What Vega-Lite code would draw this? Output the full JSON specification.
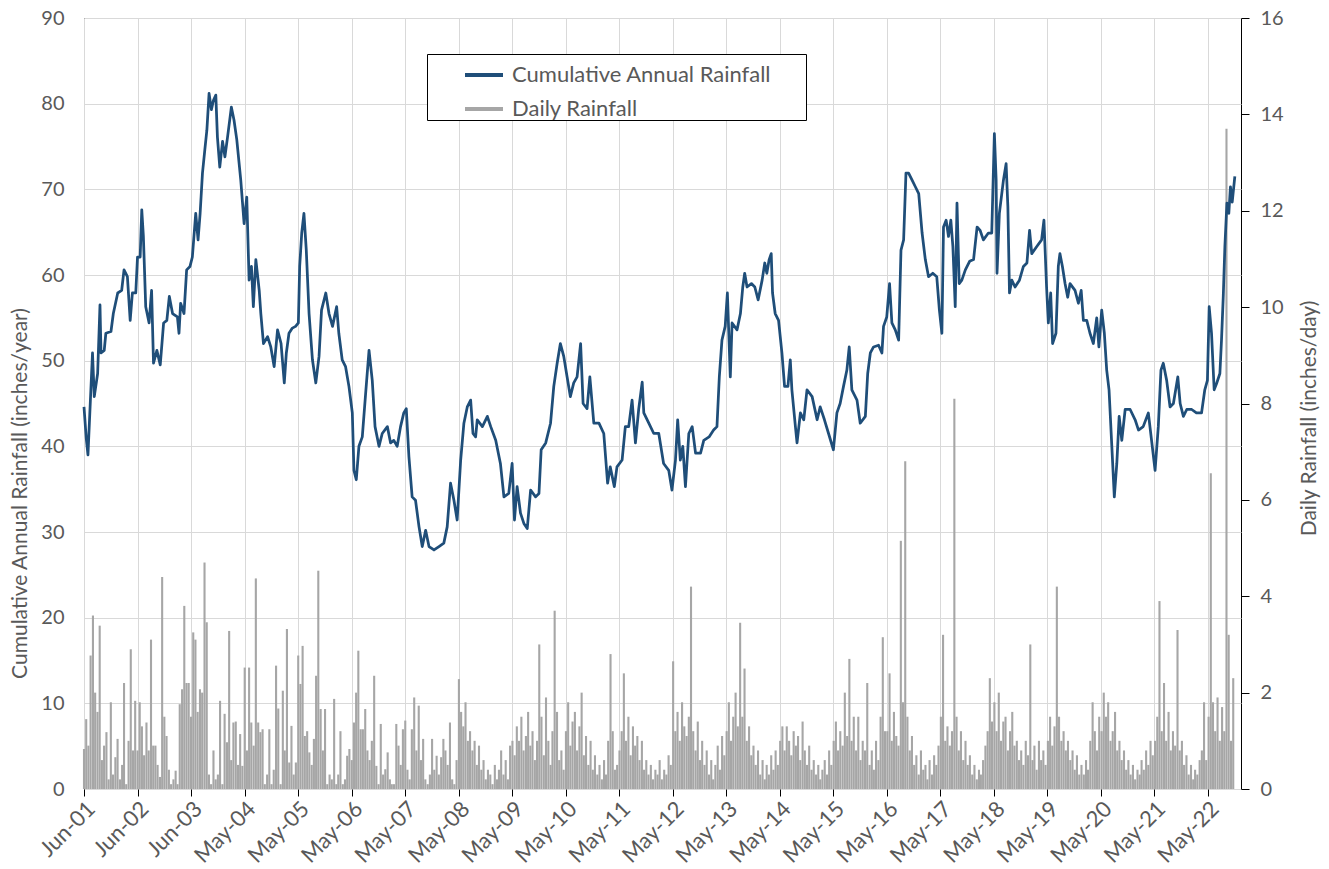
{
"$schema": "https://vega.github.io/schema/vega-lite/v6.json",
"width": 1157, "height": 771,
"autosize": {"type": "none"},
"padding": {"left": 84, "top": 18, "right": 88, "bottom": 80},
"background": "white",
"config": {
  "view": {"stroke": "#000000", "strokeWidth": 1},
  "font": "Lato",
  "axis": {"labelFont": "Lato", "titleFont": "Lato", "labelColor": "#595959", "titleColor": "#595959", "labelFontSize": 20, "titleFontSize": 21, "titleFontWeight": "normal"}
},
"datasets": {
"cumulative": [
{"date":"2001-06-01","cum":44.6},{"date":"2001-06-16","cum":41.0},{"date":"2001-06-28","cum":39.0},{"date":"2001-07-29","cum":50.9},{"date":"2001-08-10","cum":45.8},{"date":"2001-09-02","cum":48.5},{"date":"2001-09-18","cum":56.5},{"date":"2001-09-25","cum":50.9},{"date":"2001-10-17","cum":51.2},{"date":"2001-10-28","cum":53.2},{"date":"2001-12-02","cum":53.4},{"date":"2001-12-18","cum":55.5},
{"date":"2002-01-17","cum":57.9},{"date":"2002-02-13","cum":58.2},{"date":"2002-03-01","cum":60.6},{"date":"2002-03-24","cum":59.8},{"date":"2002-04-12","cum":54.7},{"date":"2002-04-27","cum":57.9},{"date":"2002-05-20","cum":57.9},{"date":"2002-06-01","cum":62.1},{"date":"2002-06-19","cum":62.1},{"date":"2002-06-30","cum":67.6},{"date":"2002-07-11","cum":64.5},{"date":"2002-07-27","cum":56.3},{"date":"2002-08-19","cum":54.4},{"date":"2002-09-05","cum":58.2},{"date":"2002-09-18","cum":49.7},{"date":"2002-10-11","cum":51.2},{"date":"2002-11-03","cum":49.5},{"date":"2002-11-26","cum":54.4},{"date":"2002-12-18","cum":54.7},
{"date":"2003-01-04","cum":57.5},{"date":"2003-01-26","cum":55.5},{"date":"2003-02-28","cum":55.1},{"date":"2003-03-11","cum":53.2},{"date":"2003-03-22","cum":56.7},{"date":"2003-04-14","cum":55.5},{"date":"2003-05-02","cum":60.6},{"date":"2003-05-25","cum":61.0},{"date":"2003-06-10","cum":62.1},{"date":"2003-07-03","cum":67.2},{"date":"2003-07-19","cum":64.1},{"date":"2003-08-02","cum":67.2},{"date":"2003-08-18","cum":71.9},{"date":"2003-09-03","cum":74.6},{"date":"2003-09-17","cum":76.9},{"date":"2003-10-02","cum":81.2},{"date":"2003-10-18","cum":79.3},{"date":"2003-11-01","cum":80.4},{"date":"2003-11-17","cum":81.0},{"date":"2003-11-28","cum":76.1},{"date":"2003-12-14","cum":72.6},
{"date":"2004-01-02","cum":75.6},{"date":"2004-01-18","cum":73.8},{"date":"2004-02-05","cum":76.1},{"date":"2004-03-02","cum":79.6},{"date":"2004-03-20","cum":78.1},{"date":"2004-04-08","cum":75.8},{"date":"2004-05-05","cum":71.1},{"date":"2004-05-28","cum":66.0},{"date":"2004-06-15","cum":69.1},{"date":"2004-07-01","cum":59.4},{"date":"2004-07-17","cum":61.0},{"date":"2004-07-30","cum":56.3},{"date":"2004-08-16","cum":61.8},{"date":"2004-09-08","cum":58.2},{"date":"2004-09-19","cum":55.5},{"date":"2004-10-07","cum":52.0},{"date":"2004-11-04","cum":52.8},{"date":"2004-11-26","cum":51.6},{"date":"2004-12-19","cum":49.3},
{"date":"2005-01-11","cum":53.6},{"date":"2005-02-04","cum":52.0},{"date":"2005-02-26","cum":47.4},{"date":"2005-03-12","cum":50.9},{"date":"2005-03-30","cum":53.2},{"date":"2005-04-22","cum":53.8},{"date":"2005-05-14","cum":54.0},{"date":"2005-06-02","cum":54.4},{"date":"2005-06-11","cum":61.0},{"date":"2005-06-25","cum":64.9},{"date":"2005-07-10","cum":67.2},{"date":"2005-07-26","cum":62.9},{"date":"2005-08-14","cum":55.5},{"date":"2005-09-06","cum":50.1},{"date":"2005-09-29","cum":47.4},{"date":"2005-10-21","cum":50.5},{"date":"2005-11-07","cum":55.9},{"date":"2005-12-06","cum":57.9},{"date":"2005-12-28","cum":55.5},
{"date":"2006-01-21","cum":54.0},{"date":"2006-02-18","cum":56.3},{"date":"2006-03-05","cum":53.2},{"date":"2006-03-28","cum":50.1},{"date":"2006-04-20","cum":49.3},{"date":"2006-05-13","cum":47.0},{"date":"2006-06-05","cum":43.9},{"date":"2006-06-16","cum":37.2},{"date":"2006-07-02","cum":36.1},{"date":"2006-07-20","cum":40.0},{"date":"2006-08-12","cum":41.1},{"date":"2006-09-04","cum":46.2},{"date":"2006-09-27","cum":51.2},{"date":"2006-10-19","cum":47.7},{"date":"2006-11-07","cum":42.3},{"date":"2006-12-04","cum":40.0},{"date":"2006-12-26","cum":41.5},
{"date":"2007-01-30","cum":42.3},{"date":"2007-02-21","cum":40.4},{"date":"2007-03-15","cum":40.7},{"date":"2007-04-07","cum":40.0},{"date":"2007-04-30","cum":42.3},{"date":"2007-05-22","cum":43.9},{"date":"2007-06-08","cum":44.4},{"date":"2007-06-26","cum":38.8},{"date":"2007-07-18","cum":34.1},{"date":"2007-08-10","cum":33.7},{"date":"2007-09-03","cum":30.6},{"date":"2007-09-25","cum":28.3},{"date":"2007-10-18","cum":30.2},{"date":"2007-11-10","cum":28.3},{"date":"2007-12-14","cum":27.9},
{"date":"2008-01-17","cum":28.3},{"date":"2008-02-19","cum":28.7},{"date":"2008-03-13","cum":30.6},{"date":"2008-04-05","cum":35.7},{"date":"2008-04-28","cum":33.7},{"date":"2008-05-20","cum":31.4},{"date":"2008-06-13","cum":38.4},{"date":"2008-07-05","cum":42.7},{"date":"2008-07-28","cum":44.6},{"date":"2008-08-20","cum":45.4},{"date":"2008-09-05","cum":41.5},{"date":"2008-09-23","cum":41.1},{"date":"2008-10-04","cum":43.1},{"date":"2008-11-08","cum":42.3},{"date":"2008-12-12","cum":43.5},
{"date":"2009-01-04","cum":42.3},{"date":"2009-02-07","cum":40.7},{"date":"2009-03-11","cum":38.0},{"date":"2009-04-04","cum":34.1},{"date":"2009-05-07","cum":34.5},{"date":"2009-05-30","cum":38.0},{"date":"2009-06-15","cum":31.4},{"date":"2009-07-03","cum":35.3},{"date":"2009-07-26","cum":32.2},{"date":"2009-08-18","cum":31.0},{"date":"2009-09-10","cum":30.4},{"date":"2009-10-03","cum":34.9},{"date":"2009-11-06","cum":34.1},{"date":"2009-11-29","cum":34.5},{"date":"2009-12-14","cum":39.6},
{"date":"2010-01-14","cum":40.4},{"date":"2010-02-16","cum":42.7},{"date":"2010-03-10","cum":47.0},{"date":"2010-04-02","cum":49.7},{"date":"2010-04-24","cum":52.0},{"date":"2010-05-17","cum":50.5},{"date":"2010-06-09","cum":48.1},{"date":"2010-07-01","cum":45.8},{"date":"2010-07-24","cum":47.4},{"date":"2010-08-16","cum":48.1},{"date":"2010-09-09","cum":52.0},{"date":"2010-09-26","cum":45.0},{"date":"2010-10-23","cum":44.4},{"date":"2010-11-11","cum":48.1},{"date":"2010-12-08","cum":42.7},
{"date":"2011-01-12","cum":42.7},{"date":"2011-02-14","cum":41.5},{"date":"2011-03-12","cum":35.7},{"date":"2011-03-30","cum":37.6},{"date":"2011-04-27","cum":35.3},{"date":"2011-05-15","cum":37.6},{"date":"2011-06-19","cum":38.4},{"date":"2011-07-11","cum":42.3},{"date":"2011-08-03","cum":42.3},{"date":"2011-08-26","cum":45.4},{"date":"2011-09-18","cum":40.4},{"date":"2011-10-10","cum":44.3},{"date":"2011-11-03","cum":47.5},{"date":"2011-11-14","cum":43.9},{"date":"2011-12-18","cum":42.7},
{"date":"2012-01-21","cum":41.5},{"date":"2012-02-24","cum":41.5},{"date":"2012-03-28","cum":38.0},{"date":"2012-05-02","cum":37.2},{"date":"2012-05-24","cum":34.9},{"date":"2012-06-17","cum":38.4},{"date":"2012-07-02","cum":43.1},{"date":"2012-07-20","cum":38.4},{"date":"2012-08-06","cum":40.0},{"date":"2012-08-24","cum":35.3},{"date":"2012-09-16","cum":41.5},{"date":"2012-10-09","cum":42.3},{"date":"2012-11-01","cum":39.2},{"date":"2012-12-05","cum":39.2},{"date":"2012-12-27","cum":40.7},
{"date":"2013-02-01","cum":41.1},{"date":"2013-03-04","cum":41.9},{"date":"2013-03-27","cum":42.3},{"date":"2013-04-12","cum":48.1},{"date":"2013-04-30","cum":52.4},{"date":"2013-05-22","cum":54.0},{"date":"2013-06-06","cum":57.9},{"date":"2013-06-26","cum":48.1},{"date":"2013-07-08","cum":54.4},{"date":"2013-08-11","cum":53.6},{"date":"2013-09-03","cum":55.5},{"date":"2013-09-19","cum":58.6},{"date":"2013-10-02","cum":60.2},{"date":"2013-10-18","cum":58.6},{"date":"2013-11-17","cum":59.0},{"date":"2013-12-10","cum":58.6},
{"date":"2014-01-02","cum":57.1},{"date":"2014-01-29","cum":59.4},{"date":"2014-02-16","cum":61.4},{"date":"2014-03-02","cum":60.2},{"date":"2014-03-18","cum":61.8},{"date":"2014-04-01","cum":62.5},{"date":"2014-04-10","cum":57.9},{"date":"2014-04-28","cum":55.5},{"date":"2014-05-21","cum":54.7},{"date":"2014-06-13","cum":50.9},{"date":"2014-07-01","cum":47.0},{"date":"2014-07-24","cum":47.0},{"date":"2014-08-09","cum":50.1},{"date":"2014-08-20","cum":46.6},{"date":"2014-09-13","cum":42.3},{"date":"2014-09-24","cum":40.4},{"date":"2014-10-17","cum":43.9},{"date":"2014-11-09","cum":43.1},{"date":"2014-12-01","cum":46.6},
{"date":"2015-01-05","cum":45.8},{"date":"2015-02-08","cum":43.1},{"date":"2015-03-01","cum":44.6},{"date":"2015-03-30","cum":43.1},{"date":"2015-04-27","cum":41.5},{"date":"2015-05-30","cum":39.6},{"date":"2015-06-23","cum":43.9},{"date":"2015-07-15","cum":45.0},{"date":"2015-08-07","cum":47.0},{"date":"2015-08-30","cum":48.9},{"date":"2015-09-15","cum":51.6},{"date":"2015-10-03","cum":46.6},{"date":"2015-11-07","cum":45.4},{"date":"2015-11-29","cum":42.7},
{"date":"2016-01-03","cum":43.5},{"date":"2016-01-19","cum":48.5},{"date":"2016-02-06","cum":50.9},{"date":"2016-02-28","cum":51.6},{"date":"2016-04-02","cum":51.8},{"date":"2016-04-25","cum":50.9},{"date":"2016-05-06","cum":54.0},{"date":"2016-05-28","cum":55.1},{"date":"2016-06-16","cum":59.0},{"date":"2016-07-02","cum":54.4},{"date":"2016-07-25","cum":53.6},{"date":"2016-08-17","cum":52.4},{"date":"2016-09-02","cum":62.9},{"date":"2016-09-20","cum":64.1},{"date":"2016-10-06","cum":71.9},{"date":"2016-10-24","cum":71.9},{"date":"2016-11-16","cum":71.1},{"date":"2016-12-09","cum":70.3},
{"date":"2017-01-01","cum":69.5},{"date":"2017-01-24","cum":64.9},{"date":"2017-02-15","cum":61.8},{"date":"2017-03-09","cum":59.8},{"date":"2017-04-07","cum":60.2},{"date":"2017-05-04","cum":59.8},{"date":"2017-05-22","cum":55.9},{"date":"2017-06-08","cum":53.2},{"date":"2017-06-19","cum":65.6},{"date":"2017-07-07","cum":66.4},{"date":"2017-07-23","cum":64.5},{"date":"2017-08-08","cum":66.4},{"date":"2017-08-22","cum":63.3},{"date":"2017-09-07","cum":56.3},{"date":"2017-09-19","cum":68.4},{"date":"2017-10-04","cum":59.0},{"date":"2017-10-22","cum":59.4},{"date":"2017-11-15","cum":60.6},{"date":"2017-12-14","cum":61.6},
{"date":"2018-01-10","cum":61.8},{"date":"2018-02-03","cum":65.6},{"date":"2018-02-24","cum":65.2},{"date":"2018-03-18","cum":64.1},{"date":"2018-04-21","cum":64.9},{"date":"2018-05-14","cum":64.9},{"date":"2018-06-01","cum":76.5},{"date":"2018-06-13","cum":71.1},{"date":"2018-06-19","cum":60.2},{"date":"2018-07-05","cum":67.2},{"date":"2018-08-02","cum":71.1},{"date":"2018-08-20","cum":73.0},{"date":"2018-09-01","cum":68.0},{"date":"2018-09-12","cum":57.9},{"date":"2018-09-28","cum":59.4},{"date":"2018-10-20","cum":58.6},{"date":"2018-11-19","cum":59.4},{"date":"2018-12-16","cum":61.0},
{"date":"2019-01-09","cum":61.4},{"date":"2019-01-27","cum":65.2},{"date":"2019-02-11","cum":62.5},{"date":"2019-03-16","cum":63.3},{"date":"2019-04-19","cum":64.1},{"date":"2019-05-05","cum":66.4},{"date":"2019-05-23","cum":58.6},{"date":"2019-06-04","cum":54.4},{"date":"2019-06-20","cum":57.9},{"date":"2019-07-03","cum":52.0},{"date":"2019-07-26","cum":53.2},{"date":"2019-08-11","cum":61.0},{"date":"2019-08-22","cum":62.5},{"date":"2019-09-08","cum":61.0},{"date":"2019-09-26","cum":59.0},{"date":"2019-10-14","cum":57.4},{"date":"2019-10-30","cum":59.0},{"date":"2019-12-03","cum":58.2},{"date":"2019-12-26","cum":56.7},
{"date":"2020-01-14","cum":58.2},{"date":"2020-01-29","cum":54.7},{"date":"2020-02-21","cum":54.7},{"date":"2020-03-14","cum":53.2},{"date":"2020-04-06","cum":52.0},{"date":"2020-04-29","cum":55.0},{"date":"2020-05-14","cum":51.6},{"date":"2020-06-02","cum":55.9},{"date":"2020-06-20","cum":53.2},{"date":"2020-07-06","cum":48.9},{"date":"2020-07-22","cum":46.6},{"date":"2020-08-10","cum":40.0},{"date":"2020-08-27","cum":34.1},{"date":"2020-09-13","cum":38.0},{"date":"2020-09-29","cum":43.5},{"date":"2020-10-17","cum":40.7},{"date":"2020-11-09","cum":44.3},{"date":"2020-12-13","cum":44.3},
{"date":"2021-01-16","cum":43.1},{"date":"2021-02-08","cum":41.9},{"date":"2021-03-12","cum":42.3},{"date":"2021-04-16","cum":43.9},{"date":"2021-05-08","cum":40.7},{"date":"2021-06-01","cum":37.2},{"date":"2021-06-23","cum":42.3},{"date":"2021-07-11","cum":48.9},{"date":"2021-07-27","cum":49.7},{"date":"2021-08-19","cum":47.7},{"date":"2021-09-11","cum":44.6},{"date":"2021-10-04","cum":45.0},{"date":"2021-11-03","cum":48.1},{"date":"2021-11-19","cum":45.0},{"date":"2021-12-11","cum":43.5},
{"date":"2022-01-03","cum":44.3},{"date":"2022-02-06","cum":44.3},{"date":"2022-03-10","cum":43.9},{"date":"2022-04-14","cum":43.9},{"date":"2022-05-06","cum":46.6},{"date":"2022-05-24","cum":47.7},{"date":"2022-06-05","cum":56.3},{"date":"2022-06-21","cum":53.2},{"date":"2022-07-09","cum":46.6},{"date":"2022-07-25","cum":47.3},{"date":"2022-08-17","cum":48.5},{"date":"2022-08-28","cum":52.4},{"date":"2022-09-09","cum":57.5},{"date":"2022-09-20","cum":63.3},{"date":"2022-10-04","cum":68.4},{"date":"2022-10-17","cum":67.2},{"date":"2022-10-28","cum":70.3},{"date":"2022-11-09","cum":68.5},{"date":"2022-11-27","cum":71.5}
],
"daily": [
{"date":"2001-06-01","rain":0.83},{"date":"2001-06-16","rain":1.45},{"date":"2001-07-01","rain":0.9},{"date":"2001-07-16","rain":2.77},{"date":"2001-08-01","rain":3.6},{"date":"2001-08-16","rain":2.0},{"date":"2001-09-01","rain":1.6},{"date":"2001-09-16","rain":3.39},{"date":"2001-10-01","rain":0.6},{"date":"2001-10-16","rain":0.9},{"date":"2001-11-01","rain":1.18},{"date":"2001-11-16","rain":0.2},{"date":"2001-12-01","rain":1.8},{"date":"2001-12-16","rain":0.3},{"date":"2002-01-01","rain":0.66},{"date":"2002-01-16","rain":1.04},{"date":"2002-02-01","rain":0.2},{"date":"2002-02-16","rain":0.5},{"date":"2002-03-01","rain":2.2},{"date":"2002-03-16","rain":0.1},{"date":"2002-04-01","rain":1.0},{"date":"2002-04-16","rain":2.9},{"date":"2002-05-01","rain":0.8},{"date":"2002-05-16","rain":1.83},
{"date":"2002-06-01","rain":0.8},{"date":"2002-06-16","rain":1.8},{"date":"2002-07-01","rain":1.3},{"date":"2002-07-16","rain":0.7},{"date":"2002-08-01","rain":1.38},{"date":"2002-08-16","rain":0.8},{"date":"2002-09-01","rain":3.1},{"date":"2002-09-16","rain":0.9},{"date":"2002-10-01","rain":0.9},{"date":"2002-10-16","rain":0.5},{"date":"2002-11-01","rain":0.25},{"date":"2002-11-16","rain":4.4},{"date":"2002-12-01","rain":1.5},{"date":"2002-12-16","rain":1.1},{"date":"2003-01-01","rain":0.4},{"date":"2003-01-16","rain":0.1},{"date":"2003-02-01","rain":0.2},{"date":"2003-02-16","rain":0.38},{"date":"2003-03-01","rain":0.1},{"date":"2003-03-16","rain":1.76},{"date":"2003-04-01","rain":2.07},{"date":"2003-04-16","rain":3.8},{"date":"2003-05-01","rain":2.2},{"date":"2003-05-16","rain":2.2},
{"date":"2003-06-01","rain":1.5},{"date":"2003-06-16","rain":3.25},{"date":"2003-07-01","rain":3.1},{"date":"2003-07-16","rain":1.6},{"date":"2003-08-01","rain":2.07},{"date":"2003-08-16","rain":2.0},{"date":"2003-09-01","rain":4.7},{"date":"2003-09-16","rain":3.46},{"date":"2003-10-01","rain":0.3},{"date":"2003-10-16","rain":0.1},{"date":"2003-11-01","rain":0.8},{"date":"2003-11-16","rain":0.2},{"date":"2003-12-01","rain":0.3},{"date":"2003-12-16","rain":1.83},{"date":"2004-01-01","rain":0.1},{"date":"2004-01-16","rain":1.56},{"date":"2004-02-01","rain":0.97},{"date":"2004-02-16","rain":3.28},{"date":"2004-03-01","rain":0.6},{"date":"2004-03-16","rain":1.38},{"date":"2004-04-01","rain":1.4},{"date":"2004-04-16","rain":0.5},{"date":"2004-05-01","rain":1.14},{"date":"2004-05-16","rain":0.48},
{"date":"2004-06-01","rain":2.52},{"date":"2004-06-16","rain":0.8},{"date":"2004-07-01","rain":2.52},{"date":"2004-07-16","rain":1.38},{"date":"2004-08-01","rain":0.9},{"date":"2004-08-16","rain":4.37},{"date":"2004-09-01","rain":1.38},{"date":"2004-09-16","rain":1.18},{"date":"2004-10-01","rain":1.24},{"date":"2004-10-16","rain":0.1},{"date":"2004-11-01","rain":0.3},{"date":"2004-11-16","rain":1.24},{"date":"2004-12-01","rain":0.1},{"date":"2004-12-16","rain":0.4},{"date":"2005-01-01","rain":2.56},{"date":"2005-01-16","rain":1.67},{"date":"2005-02-01","rain":0.1},{"date":"2005-02-16","rain":2.04},{"date":"2005-03-01","rain":0.8},{"date":"2005-03-16","rain":3.32},{"date":"2005-04-01","rain":0.55},{"date":"2005-04-16","rain":1.31},{"date":"2005-05-01","rain":0.3},{"date":"2005-05-16","rain":0.55},
{"date":"2005-06-01","rain":2.77},{"date":"2005-06-16","rain":2.18},{"date":"2005-07-01","rain":2.97},{"date":"2005-07-16","rain":1.1},{"date":"2005-08-01","rain":1.2},{"date":"2005-08-16","rain":0.76},{"date":"2005-09-01","rain":0.5},{"date":"2005-09-16","rain":1.04},{"date":"2005-10-01","rain":2.35},{"date":"2005-10-16","rain":4.53},{"date":"2005-11-01","rain":1.66},{"date":"2005-11-16","rain":0.8},{"date":"2005-12-01","rain":1.66},{"date":"2005-12-16","rain":0.1},{"date":"2006-01-01","rain":0.3},{"date":"2006-01-16","rain":0.2},{"date":"2006-02-01","rain":1.87},{"date":"2006-02-16","rain":0.1},{"date":"2006-03-01","rain":0.3},{"date":"2006-03-16","rain":1.2},{"date":"2006-04-01","rain":0.1},{"date":"2006-04-16","rain":0.2},{"date":"2006-05-01","rain":0.69},{"date":"2006-05-16","rain":0.83},
{"date":"2006-06-01","rain":0.6},{"date":"2006-06-16","rain":1.38},{"date":"2006-07-01","rain":2.0},{"date":"2006-07-16","rain":2.87},{"date":"2006-08-01","rain":1.24},{"date":"2006-08-16","rain":1.24},{"date":"2006-09-01","rain":1.66},{"date":"2006-09-16","rain":0.8},{"date":"2006-10-01","rain":0.6},{"date":"2006-10-16","rain":1.0},{"date":"2006-11-01","rain":2.35},{"date":"2006-11-16","rain":0.48},{"date":"2006-12-01","rain":0.1},{"date":"2006-12-16","rain":1.35},{"date":"2007-01-01","rain":0.3},{"date":"2007-01-16","rain":0.41},{"date":"2007-02-01","rain":0.76},{"date":"2007-02-16","rain":0.2},{"date":"2007-03-01","rain":0.1},{"date":"2007-03-16","rain":0.1},{"date":"2007-04-01","rain":1.35},{"date":"2007-04-16","rain":0.9},{"date":"2007-05-01","rain":0.5},{"date":"2007-05-16","rain":1.24},
{"date":"2007-06-01","rain":1.42},{"date":"2007-06-16","rain":0.4},{"date":"2007-07-01","rain":0.2},{"date":"2007-07-16","rain":1.24},{"date":"2007-08-01","rain":1.9},{"date":"2007-08-16","rain":0.8},{"date":"2007-09-01","rain":1.73},{"date":"2007-09-16","rain":0.6},{"date":"2007-10-01","rain":1.04},{"date":"2007-10-16","rain":0.2},{"date":"2007-11-01","rain":0.1},{"date":"2007-11-16","rain":0.3},{"date":"2007-12-01","rain":1.04},{"date":"2007-12-16","rain":0.4},{"date":"2008-01-01","rain":0.69},{"date":"2008-01-16","rain":0.3},{"date":"2008-02-01","rain":0.66},{"date":"2008-02-16","rain":1.04},{"date":"2008-03-01","rain":0.8},{"date":"2008-03-16","rain":0.5},{"date":"2008-04-01","rain":1.38},{"date":"2008-04-16","rain":0.2},{"date":"2008-05-01","rain":0.1},{"date":"2008-05-16","rain":0.6},
{"date":"2008-06-01","rain":2.28},{"date":"2008-06-16","rain":1.6},{"date":"2008-07-01","rain":1.3},{"date":"2008-07-16","rain":1.8},{"date":"2008-08-01","rain":1.0},{"date":"2008-08-16","rain":1.2},{"date":"2008-09-01","rain":0.8},{"date":"2008-09-16","rain":1.0},{"date":"2008-10-01","rain":0.5},{"date":"2008-10-16","rain":0.9},{"date":"2008-11-01","rain":0.4},{"date":"2008-11-16","rain":0.6},{"date":"2008-12-01","rain":0.2},{"date":"2008-12-16","rain":0.4},{"date":"2009-01-01","rain":0.3},{"date":"2009-01-16","rain":0.1},{"date":"2009-02-01","rain":0.5},{"date":"2009-02-16","rain":0.2},{"date":"2009-03-01","rain":0.4},{"date":"2009-03-16","rain":0.8},{"date":"2009-04-01","rain":0.3},{"date":"2009-04-16","rain":0.6},{"date":"2009-05-01","rain":0.2},{"date":"2009-05-16","rain":0.9},
{"date":"2009-06-01","rain":1.0},{"date":"2009-06-16","rain":0.7},{"date":"2009-07-01","rain":1.3},{"date":"2009-07-16","rain":1.0},{"date":"2009-08-01","rain":1.5},{"date":"2009-08-16","rain":0.8},{"date":"2009-09-01","rain":1.1},{"date":"2009-09-16","rain":1.6},{"date":"2009-10-01","rain":0.9},{"date":"2009-10-16","rain":1.2},{"date":"2009-11-01","rain":0.6},{"date":"2009-11-16","rain":1.0},{"date":"2009-12-01","rain":3.0},{"date":"2009-12-16","rain":1.5},{"date":"2010-01-01","rain":0.7},{"date":"2010-01-16","rain":1.9},{"date":"2010-02-01","rain":1.0},{"date":"2010-02-16","rain":0.5},{"date":"2010-03-01","rain":1.2},{"date":"2010-03-16","rain":3.7},{"date":"2010-04-01","rain":1.6},{"date":"2010-04-16","rain":0.6},{"date":"2010-05-01","rain":0.8},{"date":"2010-05-16","rain":0.4},
{"date":"2010-06-01","rain":1.2},{"date":"2010-06-16","rain":1.8},{"date":"2010-07-01","rain":0.9},{"date":"2010-07-16","rain":1.4},{"date":"2010-08-01","rain":1.6},{"date":"2010-08-16","rain":0.8},{"date":"2010-09-01","rain":1.3},{"date":"2010-09-16","rain":2.0},{"date":"2010-10-01","rain":0.7},{"date":"2010-10-16","rain":1.1},{"date":"2010-11-01","rain":0.5},{"date":"2010-11-16","rain":1.0},{"date":"2010-12-01","rain":0.4},{"date":"2010-12-16","rain":0.7},{"date":"2011-01-01","rain":0.3},{"date":"2011-01-16","rain":0.5},{"date":"2011-02-01","rain":0.2},{"date":"2011-02-16","rain":0.6},{"date":"2011-03-01","rain":0.3},{"date":"2011-03-16","rain":1.0},{"date":"2011-04-01","rain":2.8},{"date":"2011-04-16","rain":1.2},{"date":"2011-05-01","rain":0.4},{"date":"2011-05-16","rain":0.5},
{"date":"2011-06-01","rain":0.8},{"date":"2011-06-16","rain":1.2},{"date":"2011-07-01","rain":2.4},{"date":"2011-07-16","rain":1.0},{"date":"2011-08-01","rain":1.5},{"date":"2011-08-16","rain":0.7},{"date":"2011-09-01","rain":1.3},{"date":"2011-09-16","rain":0.9},{"date":"2011-10-01","rain":1.1},{"date":"2011-10-16","rain":0.6},{"date":"2011-11-01","rain":1.0},{"date":"2011-11-16","rain":0.4},{"date":"2011-12-01","rain":0.6},{"date":"2011-12-16","rain":0.3},{"date":"2012-01-01","rain":0.5},{"date":"2012-01-16","rain":0.2},{"date":"2012-02-01","rain":0.4},{"date":"2012-02-16","rain":0.3},{"date":"2012-03-01","rain":0.6},{"date":"2012-03-16","rain":0.2},{"date":"2012-04-01","rain":0.4},{"date":"2012-04-16","rain":0.3},{"date":"2012-05-01","rain":0.7},{"date":"2012-05-16","rain":0.5},
{"date":"2012-06-01","rain":2.65},{"date":"2012-06-16","rain":1.2},{"date":"2012-07-01","rain":1.6},{"date":"2012-07-16","rain":1.0},{"date":"2012-08-01","rain":1.8},{"date":"2012-08-16","rain":1.3},{"date":"2012-09-01","rain":1.1},{"date":"2012-09-16","rain":1.5},{"date":"2012-10-01","rain":4.2},{"date":"2012-10-16","rain":1.2},{"date":"2012-11-01","rain":0.8},{"date":"2012-11-16","rain":1.4},{"date":"2012-12-01","rain":0.6},{"date":"2012-12-16","rain":1.0},{"date":"2013-01-01","rain":0.5},{"date":"2013-01-16","rain":0.8},{"date":"2013-02-01","rain":0.3},{"date":"2013-02-16","rain":0.6},{"date":"2013-03-01","rain":0.2},{"date":"2013-03-16","rain":0.5},{"date":"2013-04-01","rain":0.9},{"date":"2013-04-16","rain":0.4},{"date":"2013-05-01","rain":1.1},{"date":"2013-05-16","rain":0.7},
{"date":"2013-06-01","rain":1.2},{"date":"2013-06-16","rain":1.8},{"date":"2013-07-01","rain":1.0},{"date":"2013-07-16","rain":1.5},{"date":"2013-08-01","rain":2.0},{"date":"2013-08-16","rain":1.3},{"date":"2013-09-01","rain":3.45},{"date":"2013-09-16","rain":1.5},{"date":"2013-10-01","rain":2.5},{"date":"2013-10-16","rain":1.0},{"date":"2013-11-01","rain":1.3},{"date":"2013-11-16","rain":0.7},{"date":"2013-12-01","rain":0.9},{"date":"2013-12-16","rain":0.5},{"date":"2014-01-01","rain":0.8},{"date":"2014-01-16","rain":0.3},{"date":"2014-02-01","rain":0.6},{"date":"2014-02-16","rain":0.2},{"date":"2014-03-01","rain":0.5},{"date":"2014-03-16","rain":0.3},{"date":"2014-04-01","rain":0.7},{"date":"2014-04-16","rain":0.4},{"date":"2014-05-01","rain":0.8},{"date":"2014-05-16","rain":0.5},
{"date":"2014-06-01","rain":1.0},{"date":"2014-06-16","rain":1.3},{"date":"2014-07-01","rain":0.8},{"date":"2014-07-16","rain":1.3},{"date":"2014-08-01","rain":1.0},{"date":"2014-08-16","rain":0.7},{"date":"2014-09-01","rain":1.2},{"date":"2014-09-16","rain":0.9},{"date":"2014-10-01","rain":1.1},{"date":"2014-10-16","rain":0.6},{"date":"2014-11-01","rain":1.4},{"date":"2014-11-16","rain":0.8},{"date":"2014-12-01","rain":0.5},{"date":"2014-12-16","rain":0.9},{"date":"2015-01-01","rain":0.4},{"date":"2015-01-16","rain":0.6},{"date":"2015-02-01","rain":0.3},{"date":"2015-02-16","rain":0.5},{"date":"2015-03-01","rain":0.2},{"date":"2015-03-16","rain":0.4},{"date":"2015-04-01","rain":0.6},{"date":"2015-04-16","rain":0.3},{"date":"2015-05-01","rain":0.8},{"date":"2015-05-16","rain":0.5},
{"date":"2015-06-01","rain":1.0},{"date":"2015-06-16","rain":1.4},{"date":"2015-07-01","rain":0.8},{"date":"2015-07-16","rain":1.2},{"date":"2015-08-01","rain":0.9},{"date":"2015-08-16","rain":2.0},{"date":"2015-09-01","rain":1.1},{"date":"2015-09-16","rain":2.7},{"date":"2015-10-01","rain":1.0},{"date":"2015-10-16","rain":1.5},{"date":"2015-11-01","rain":0.8},{"date":"2015-11-16","rain":1.5},{"date":"2015-12-01","rain":0.6},{"date":"2015-12-16","rain":1.0},{"date":"2016-01-01","rain":0.8},{"date":"2016-01-16","rain":2.2},{"date":"2016-02-01","rain":0.5},{"date":"2016-02-16","rain":0.8},{"date":"2016-03-01","rain":0.4},{"date":"2016-03-16","rain":1.0},{"date":"2016-04-01","rain":0.6},{"date":"2016-04-16","rain":1.5},{"date":"2016-05-01","rain":3.15},{"date":"2016-05-16","rain":1.2},
{"date":"2016-06-01","rain":1.2},{"date":"2016-06-16","rain":2.4},{"date":"2016-07-01","rain":1.0},{"date":"2016-07-16","rain":1.6},{"date":"2016-08-01","rain":1.1},{"date":"2016-08-16","rain":0.9},{"date":"2016-09-01","rain":5.15},{"date":"2016-09-16","rain":1.8},{"date":"2016-10-01","rain":6.8},{"date":"2016-10-16","rain":1.5},{"date":"2016-11-01","rain":0.8},{"date":"2016-11-16","rain":1.1},{"date":"2016-12-01","rain":0.5},{"date":"2016-12-16","rain":0.7},{"date":"2017-01-01","rain":0.3},{"date":"2017-01-16","rain":0.8},{"date":"2017-02-01","rain":0.4},{"date":"2017-02-16","rain":0.5},{"date":"2017-03-01","rain":0.2},{"date":"2017-03-16","rain":0.6},{"date":"2017-04-01","rain":0.3},{"date":"2017-04-16","rain":0.7},{"date":"2017-05-01","rain":0.5},{"date":"2017-05-16","rain":0.9},
{"date":"2017-06-01","rain":1.5},{"date":"2017-06-16","rain":3.2},{"date":"2017-07-01","rain":1.0},{"date":"2017-07-16","rain":1.3},{"date":"2017-08-01","rain":0.9},{"date":"2017-08-16","rain":1.2},{"date":"2017-09-01","rain":8.1},{"date":"2017-09-16","rain":1.5},{"date":"2017-10-01","rain":0.8},{"date":"2017-10-16","rain":1.2},{"date":"2017-11-01","rain":0.6},{"date":"2017-11-16","rain":1.0},{"date":"2017-12-01","rain":0.5},{"date":"2017-12-16","rain":0.7},{"date":"2018-01-01","rain":0.3},{"date":"2018-01-16","rain":0.5},{"date":"2018-02-01","rain":0.2},{"date":"2018-02-16","rain":0.4},{"date":"2018-03-01","rain":0.3},{"date":"2018-03-16","rain":0.6},{"date":"2018-04-01","rain":0.9},{"date":"2018-04-16","rain":1.2},{"date":"2018-05-01","rain":2.3},{"date":"2018-05-16","rain":1.4},
{"date":"2018-06-01","rain":1.8},{"date":"2018-06-16","rain":1.2},{"date":"2018-07-01","rain":2.0},{"date":"2018-07-16","rain":1.0},{"date":"2018-08-01","rain":1.4},{"date":"2018-08-16","rain":1.5},{"date":"2018-09-01","rain":0.8},{"date":"2018-09-16","rain":1.2},{"date":"2018-10-01","rain":1.6},{"date":"2018-10-16","rain":0.9},{"date":"2018-11-01","rain":1.0},{"date":"2018-11-16","rain":0.6},{"date":"2018-12-01","rain":0.8},{"date":"2018-12-16","rain":0.5},{"date":"2019-01-01","rain":1.0},{"date":"2019-01-16","rain":0.7},{"date":"2019-02-01","rain":3.0},{"date":"2019-02-16","rain":0.6},{"date":"2019-03-01","rain":0.9},{"date":"2019-03-16","rain":0.4},{"date":"2019-04-01","rain":1.0},{"date":"2019-04-16","rain":0.6},{"date":"2019-05-01","rain":0.8},{"date":"2019-05-16","rain":0.5},
{"date":"2019-06-01","rain":1.0},{"date":"2019-06-16","rain":1.5},{"date":"2019-07-01","rain":0.9},{"date":"2019-07-16","rain":1.3},{"date":"2019-08-01","rain":4.2},{"date":"2019-08-16","rain":1.5},{"date":"2019-09-01","rain":1.0},{"date":"2019-09-16","rain":1.2},{"date":"2019-10-01","rain":0.8},{"date":"2019-10-16","rain":1.0},{"date":"2019-11-01","rain":0.6},{"date":"2019-11-16","rain":0.8},{"date":"2019-12-01","rain":0.4},{"date":"2019-12-16","rain":0.7},{"date":"2020-01-01","rain":0.3},{"date":"2020-01-16","rain":0.5},{"date":"2020-02-01","rain":0.3},{"date":"2020-02-16","rain":0.6},{"date":"2020-03-01","rain":0.4},{"date":"2020-03-16","rain":1.0},{"date":"2020-04-01","rain":1.8},{"date":"2020-04-16","rain":1.2},{"date":"2020-05-01","rain":0.8},{"date":"2020-05-16","rain":1.5},
{"date":"2020-06-01","rain":1.2},{"date":"2020-06-16","rain":2.0},{"date":"2020-07-01","rain":1.5},{"date":"2020-07-16","rain":1.8},{"date":"2020-08-01","rain":1.0},{"date":"2020-08-16","rain":1.2},{"date":"2020-09-01","rain":1.6},{"date":"2020-09-16","rain":0.8},{"date":"2020-10-01","rain":1.0},{"date":"2020-10-16","rain":0.6},{"date":"2020-11-01","rain":0.8},{"date":"2020-11-16","rain":0.4},{"date":"2020-12-01","rain":0.6},{"date":"2020-12-16","rain":0.3},{"date":"2021-01-01","rain":0.5},{"date":"2021-01-16","rain":0.2},{"date":"2021-02-01","rain":0.4},{"date":"2021-02-16","rain":0.3},{"date":"2021-03-01","rain":0.6},{"date":"2021-03-16","rain":0.4},{"date":"2021-04-01","rain":0.8},{"date":"2021-04-16","rain":0.5},{"date":"2021-05-01","rain":1.0},{"date":"2021-05-16","rain":0.7},
{"date":"2021-06-01","rain":1.0},{"date":"2021-06-16","rain":1.5},{"date":"2021-07-01","rain":3.9},{"date":"2021-07-16","rain":1.2},{"date":"2021-08-01","rain":2.2},{"date":"2021-08-16","rain":1.0},{"date":"2021-09-01","rain":1.6},{"date":"2021-09-16","rain":0.8},{"date":"2021-10-01","rain":1.2},{"date":"2021-10-16","rain":0.9},{"date":"2021-11-01","rain":3.3},{"date":"2021-11-16","rain":0.8},{"date":"2021-12-01","rain":1.0},{"date":"2021-12-16","rain":0.5},{"date":"2022-01-01","rain":0.7},{"date":"2022-01-16","rain":0.3},{"date":"2022-02-01","rain":0.5},{"date":"2022-02-16","rain":0.2},{"date":"2022-03-01","rain":0.4},{"date":"2022-03-16","rain":0.3},{"date":"2022-04-01","rain":0.6},{"date":"2022-04-16","rain":0.8},{"date":"2022-05-01","rain":1.8},{"date":"2022-05-16","rain":0.6},
{"date":"2022-06-01","rain":1.5},{"date":"2022-06-16","rain":6.55},{"date":"2022-07-01","rain":1.8},{"date":"2022-07-16","rain":1.2},{"date":"2022-08-01","rain":1.9},{"date":"2022-08-16","rain":1.0},{"date":"2022-09-01","rain":1.7},{"date":"2022-09-16","rain":1.2},{"date":"2022-10-01","rain":13.7},{"date":"2022-10-16","rain":3.2},{"date":"2022-11-01","rain":1.0},{"date":"2022-11-16","rain":2.3}
]
},
"layer": [
{
  "data": {"name": "daily"},
  "mark": {"type": "rule", "strokeWidth": 2.1},
  "encoding": {
    "x": {"field": "date", "type": "temporal",
      "scale": {"type": "utc", "nice": false, "domain": [{"year": 2001, "month": 6, "date": 1, "utc": true}, {"year": 2023, "month": 1, "date": 8, "utc": true}]},
      "axis": {
        "title": null, "domain": false, "grid": true, "gridColor": "#D9D9D9", "gridWidth": 1,
        "gridOpacity": {"condition": {"test": "utcmonth(datum.value) >= 10", "value": 0}, "value": 1},
        "ticks": true, "tickSize": 7, "tickColor": "#000000", "tickWidth": 1,
        "labelAngle": -45, "labelAlign": "right", "labelBaseline": "top", "labelPadding": 2, "labelOverlap": false, "labelFlush": false, "labelFontSize": 22,
        "labelExpr": "utcmonth(datum.value) >= 10 ? '' : utcFormat(datum.value, '%b-%y')",
        "values": [
          {"year": 2001, "month": 6, "date": 1, "utc": true}, {"year": 2001, "month": 11, "date": 30, "utc": true},
          {"year": 2002, "month": 6, "date": 1, "utc": true}, {"year": 2002, "month": 11, "date": 30, "utc": true},
          {"year": 2003, "month": 6, "date": 1, "utc": true}, {"year": 2003, "month": 11, "date": 30, "utc": true},
          {"year": 2004, "month": 5, "date": 31, "utc": true}, {"year": 2004, "month": 11, "date": 29, "utc": true},
          {"year": 2005, "month": 5, "date": 31, "utc": true}, {"year": 2005, "month": 11, "date": 29, "utc": true},
          {"year": 2006, "month": 5, "date": 31, "utc": true}, {"year": 2006, "month": 11, "date": 29, "utc": true},
          {"year": 2007, "month": 5, "date": 31, "utc": true}, {"year": 2007, "month": 11, "date": 29, "utc": true},
          {"year": 2008, "month": 5, "date": 30, "utc": true}, {"year": 2008, "month": 11, "date": 28, "utc": true},
          {"year": 2009, "month": 5, "date": 30, "utc": true}, {"year": 2009, "month": 11, "date": 28, "utc": true},
          {"year": 2010, "month": 5, "date": 30, "utc": true}, {"year": 2010, "month": 11, "date": 28, "utc": true},
          {"year": 2011, "month": 5, "date": 30, "utc": true}, {"year": 2011, "month": 11, "date": 28, "utc": true},
          {"year": 2012, "month": 5, "date": 29, "utc": true}, {"year": 2012, "month": 11, "date": 27, "utc": true},
          {"year": 2013, "month": 5, "date": 29, "utc": true}, {"year": 2013, "month": 11, "date": 27, "utc": true},
          {"year": 2014, "month": 5, "date": 29, "utc": true}, {"year": 2014, "month": 11, "date": 27, "utc": true},
          {"year": 2015, "month": 5, "date": 29, "utc": true}, {"year": 2015, "month": 11, "date": 27, "utc": true},
          {"year": 2016, "month": 5, "date": 28, "utc": true}, {"year": 2016, "month": 11, "date": 26, "utc": true},
          {"year": 2017, "month": 5, "date": 28, "utc": true}, {"year": 2017, "month": 11, "date": 26, "utc": true},
          {"year": 2018, "month": 5, "date": 28, "utc": true}, {"year": 2018, "month": 11, "date": 26, "utc": true},
          {"year": 2019, "month": 5, "date": 28, "utc": true}, {"year": 2019, "month": 11, "date": 26, "utc": true},
          {"year": 2020, "month": 5, "date": 27, "utc": true}, {"year": 2020, "month": 11, "date": 25, "utc": true},
          {"year": 2021, "month": 5, "date": 27, "utc": true}, {"year": 2021, "month": 11, "date": 25, "utc": true},
          {"year": 2022, "month": 5, "date": 27, "utc": true}, {"year": 2022, "month": 11, "date": 25, "utc": true}
        ]
      }
    },
    "y": {"field": "rain", "type": "quantitative",
      "scale": {"domain": [0, 16], "nice": false},
      "axis": {"orient": "right", "values": [0, 2, 4, 6, 8, 10, 12, 14, 16], "grid": false, "domain": false,
        "ticks": true, "tickSize": 8, "tickColor": "#000000", "labelPadding": 11,
        "title": "Daily Rainfall (inches/day)", "titleAngle": 270, "titleX": 68, "titleY": 400, "titleAlign": "center", "titleBaseline": "middle"}
    },
    "y2": {"datum": 0},
    "color": {"datum": "Daily Rainfall", "type": "nominal",
      "scale": {"domain": ["Cumulative Annual Rainfall", "Daily Rainfall"], "range": ["#1F4E79", "#A6A6A6"]},
      "legend": {"orient": "none", "legendX": 343, "legendY": 36, "direction": "vertical",
        "title": "MM", "titleOrient": "right", "titleOpacity": 0, "titleFontSize": 18, "titlePadding": 0,
        "strokeColor": "#000000", "fillColor": "#FFFFFF", "padding": 0,
        "symbolType": "stroke", "symbolSize": 1444, "symbolStrokeWidth": 4, "symbolOffset": 36,
        "labelFont": "Lato", "labelFontSize": 22, "labelColor": "#595959", "labelOffset": 7, "rowPadding": 2, "labelLimit": 600}
    }
  }
},
{
  "data": {"name": "cumulative"},
  "mark": {"type": "line", "strokeWidth": 2.75, "strokeJoin": "round"},
  "encoding": {
    "x": {"field": "date", "type": "temporal", "scale": {"type": "utc", "nice": false}},
    "y": {"field": "cum", "type": "quantitative",
      "scale": {"domain": [0, 90], "nice": false},
      "axis": {"orient": "left", "values": [0, 10, 20, 30, 40, 50, 60, 70, 80, 90], "grid": true, "gridColor": "#D9D9D9", "domain": false,
        "ticks": false, "labelPadding": 20,
        "title": "Cumulative Annual Rainfall (inches/year)", "titleAngle": 270, "titleX": -64, "titleY": 475, "titleAlign": "center", "titleBaseline": "middle"}
    },
    "color": {"datum": "Cumulative Annual Rainfall", "type": "nominal"}
  }
}
],
"resolve": {"scale": {"y": "independent"}}
}
